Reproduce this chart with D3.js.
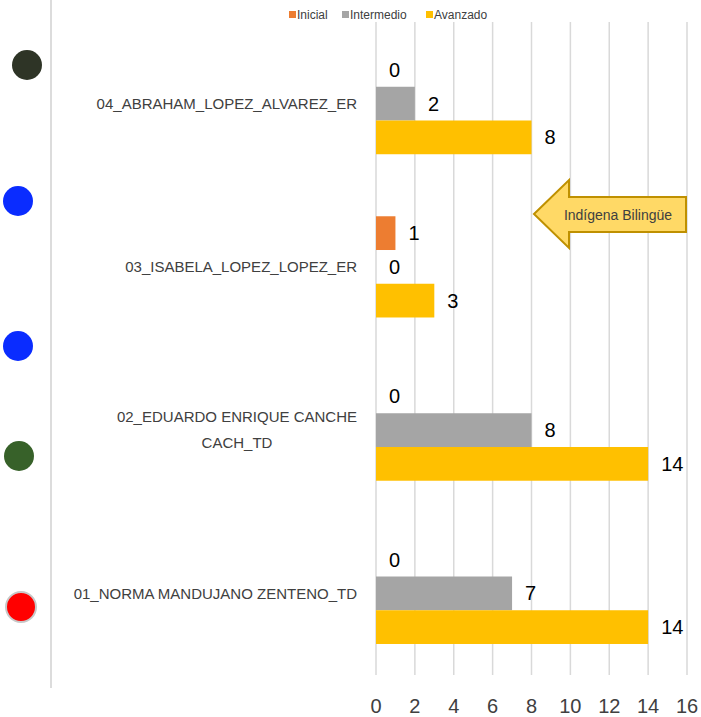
<!DOCTYPE html>
<html><head><meta charset="utf-8">
<script src="https://cdn.jsdelivr.net/npm/d3@7"></script>
<style>body{margin:0;background:#fff}svg{display:block}text{font-family:"Liberation Sans",Arial,sans-serif}</style>
</head><body><svg id="c" width="701" height="717"></svg>
<script>
const categories = ["04_ABRAHAM_LOPEZ_ALVAREZ_ER","03_ISABELA_LOPEZ_LOPEZ_ER","02_EDUARDO ENRIQUE CANCHE|CACH_TD","01_NORMA MANDUJANO ZENTENO_TD"];
const seriesNames = ["Inicial","Intermedio","Avanzado"];
const seriesColors = ["#ED7D31","#A5A5A5","#FFC000"];
const inicial = [0,1,0,0];
const intermedio = [2,0,8,7];
const avanzado = [8,3,14,14];
const xTicks = [0,2,4,6,8,10,12,14,16];
const dotColors = ["#2E3426","#0A2CFF","#0A2CFF","#376129","#FF0000"];
const dotY = [65,201,346,456,607];
const calloutText = "Indígena Bilingüe";

const svg = d3.select("#c");
const x = d3.scaleLinear().domain([0,16]).range([376,687]);
const y = d3.scaleBand().domain(categories).range([22,675]).paddingInner(0.38).paddingOuter(0.19);
const ys = d3.scaleBand().domain(seriesNames).range([0,y.bandwidth()]);
const series = [inicial,intermedio,avanzado];

// gridlines
svg.append("g").selectAll("line").data(xTicks).join("line")
  .attr("x1",d=>x(d)).attr("x2",d=>x(d)).attr("y1",22).attr("y2",675)
  .attr("stroke","#D9D9D9").attr("stroke-width",1.5);

// left border line
svg.append("line").attr("x1",51).attr("x2",51).attr("y1",0).attr("y2",688).attr("stroke","#D0D0D0").attr("stroke-width",1.5);

// dots
svg.append("g").selectAll("circle").data(dotColors).join("circle")
  .attr("cx",(d,i)=>[27,18,18,19,21][i]).attr("cy",(d,i)=>dotY[i]).attr("r",15)
  .attr("fill",d=>d).attr("stroke",(d,i)=>i===4?"#C8C8C8":"none").attr("stroke-width",2);

// bars
series.forEach((vals,si)=>{
  const g = svg.append("g");
  categories.forEach((c,ci)=>{
    const v = vals[ci];
    const y0 = y(c)+ys(seriesNames[si]);
    if(v>0) g.append("rect").attr("x",x(0)).attr("y",y0).attr("width",x(v)-x(0)).attr("height",ys.bandwidth()).attr("fill",seriesColors[si]);
    g.append("text").attr("x",x(v)+13).attr("y",y0+ys.bandwidth()/2).attr("dy","0.35em")
      .attr("font-size",20).attr("fill","#000").text(v);
  });
});

// category labels
const catFont = 15;
categories.forEach(c=>{
  const lines = c.split("|");
  const cy = y(c)+y.bandwidth()/2;
  if(lines.length===1){
    svg.append("text").attr("font-size",catFont).attr("fill","#404040")
      .attr("x",357).attr("y",cy).attr("dy","0.35em").attr("text-anchor","end").text(lines[0]);
  } else {
    const ts = lines.map((l,i)=>svg.append("text").attr("font-size",catFont).attr("fill","#404040")
      .attr("text-anchor","middle").attr("y",cy-13+i*26).attr("dy","0.35em").text(l));
    const w0 = ts[0].node().getComputedTextLength();
    const cx = 357 - w0/2;
    ts.forEach(t=>t.attr("x",cx));
  }
});

// x axis labels
svg.append("g").selectAll("text").data(xTicks).join("text")
  .attr("x",d=>x(d)).attr("y",706).attr("dy","0.35em").attr("text-anchor","middle")
  .attr("font-size",20).attr("fill","#404040").text(d=>d);

// legend
const lx = [289,342,426];
const lg = svg.append("g");
seriesNames.forEach((n,i)=>{
  lg.append("rect").attr("x",lx[i]).attr("y",11).attr("width",7).attr("height",7).attr("fill",seriesColors[i]);
  lg.append("text").attr("x",lx[i]+8).attr("y",15).attr("dy","0.35em").attr("font-size",12).attr("fill","#404040").text(n);
});

// callout arrow
const ax = [534,569,686], ay=[180,197,214,232,248];
svg.append("path").attr("d",`M${ax[0]},${ay[2]} L${ax[1]},${ay[0]} L${ax[1]},${ay[1]} L${ax[2]},${ay[1]} L${ax[2]},${ay[3]} L${ax[1]},${ay[3]} L${ax[1]},${ay[4]} Z`)
  .attr("fill","#FFD966").attr("stroke","#BF9000").attr("stroke-width",2);
svg.append("text").attr("x",618).attr("y",215).attr("dy","0.35em").attr("text-anchor","middle")
  .attr("font-size",14).attr("fill","#404040").text(calloutText);
</script></body></html>
